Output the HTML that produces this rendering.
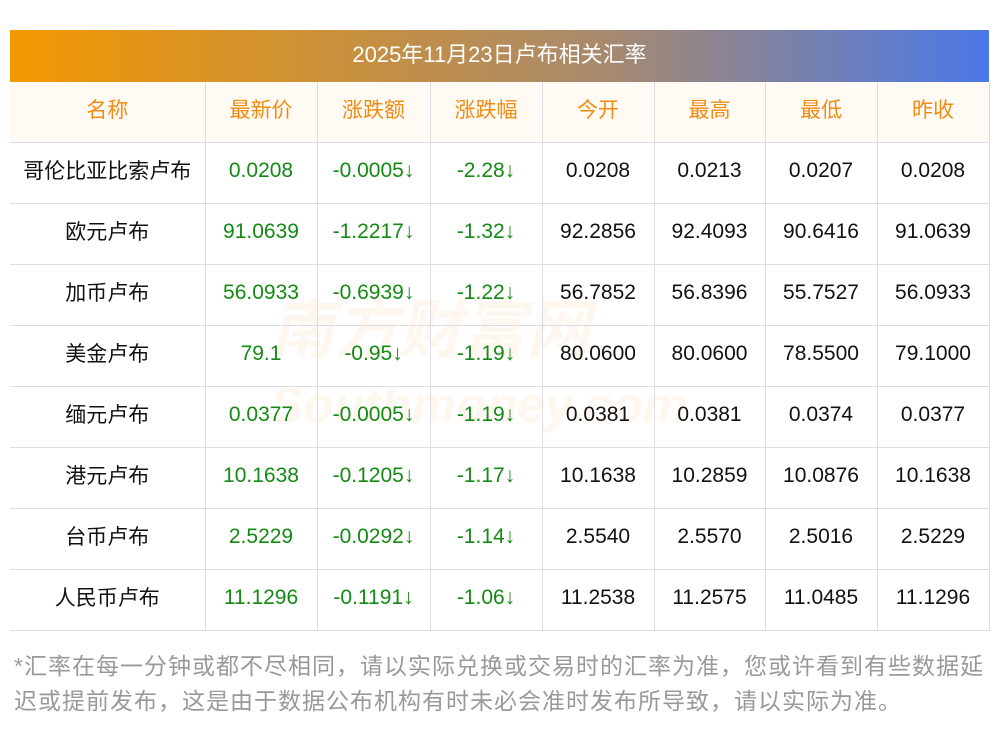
<!DOCTYPE html><html><head><meta charset="utf-8"><style>
body{margin:0;width:1000px;height:733px;background:#fff;font-family:"Liberation Sans","Noto Sans CJK SC",sans-serif;position:relative;overflow:hidden}
.bar{position:absolute;left:10px;top:30px;width:979px;height:52px;background:linear-gradient(90deg,#f39800,#a98a6c 60%,#4a78e8);color:#fff;font-size:22px;text-align:center;line-height:50px}
table{position:absolute;left:10px;top:82px;width:979px;border-collapse:collapse;table-layout:fixed}
td{height:56px;border-bottom:1px solid #dcdce4;border-right:1px solid #dcdce4;text-align:center;font-size:21px;line-height:56px;color:#111;padding:0 0 4px 0;white-space:nowrap;overflow:hidden}
td span{position:relative;top:1px}
tr:first-child td{background:#fffaf3;color:#f08c12}
.g{color:#148a14}
.note{position:absolute;left:14px;top:649px;width:990px;font-size:23px;letter-spacing:1px;line-height:35px;color:#999}
.wm{position:absolute;left:270px;top:295px;font-size:64px;color:rgba(240,200,150,.15);font-style:italic;font-weight:bold;line-height:70px}
</style></head><body>
<div class="bar">2025年11月23日卢布相关汇率</div>
<div class="wm">南方财富网<br><span style="font-size:50px">Southmoney.com</span></div>
<table>
<colgroup><col style="width:195px"><col style="width:112px"><col style="width:113px"><col style="width:112px"><col style="width:112px"><col style="width:111px"><col style="width:112px"><col style="width:112px"></colgroup>
<tr><td><span>名称</span></td><td><span>最新价</span></td><td><span>涨跌额</span></td><td><span>涨跌幅</span></td><td><span>今开</span></td><td><span>最高</span></td><td><span>最低</span></td><td><span>昨收</span></td></tr>
<tr><td><span>哥伦比亚比索卢布</span></td><td class="g">0.0208</td><td class="g">-0.0005↓</td><td class="g">-2.28↓</td><td>0.0208</td><td>0.0213</td><td>0.0207</td><td>0.0208</td></tr>
<tr><td><span>欧元卢布</span></td><td class="g">91.0639</td><td class="g">-1.2217↓</td><td class="g">-1.32↓</td><td>92.2856</td><td>92.4093</td><td>90.6416</td><td>91.0639</td></tr>
<tr><td><span>加币卢布</span></td><td class="g">56.0933</td><td class="g">-0.6939↓</td><td class="g">-1.22↓</td><td>56.7852</td><td>56.8396</td><td>55.7527</td><td>56.0933</td></tr>
<tr><td><span>美金卢布</span></td><td class="g">79.1</td><td class="g">-0.95↓</td><td class="g">-1.19↓</td><td>80.0600</td><td>80.0600</td><td>78.5500</td><td>79.1000</td></tr>
<tr><td><span>缅元卢布</span></td><td class="g">0.0377</td><td class="g">-0.0005↓</td><td class="g">-1.19↓</td><td>0.0381</td><td>0.0381</td><td>0.0374</td><td>0.0377</td></tr>
<tr><td><span>港元卢布</span></td><td class="g">10.1638</td><td class="g">-0.1205↓</td><td class="g">-1.17↓</td><td>10.1638</td><td>10.2859</td><td>10.0876</td><td>10.1638</td></tr>
<tr><td><span>台币卢布</span></td><td class="g">2.5229</td><td class="g">-0.0292↓</td><td class="g">-1.14↓</td><td>2.5540</td><td>2.5570</td><td>2.5016</td><td>2.5229</td></tr>
<tr><td><span>人民币卢布</span></td><td class="g">11.1296</td><td class="g">-0.1191↓</td><td class="g">-1.06↓</td><td>11.2538</td><td>11.2575</td><td>11.0485</td><td>11.1296</td></tr>
</table>
<div class="note">*汇率在每一分钟或都不尽相同，请以实际兑换或交易时的汇率为准，您或许看到有些数据延<br>迟或提前发布，这是由于数据公布机构有时未必会准时发布所导致，请以实际为准。</div>
</body></html>
